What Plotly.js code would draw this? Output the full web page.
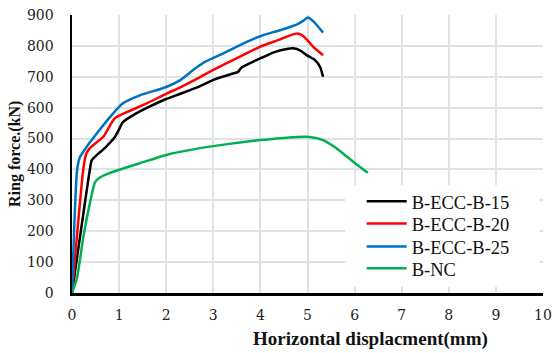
<!DOCTYPE html>
<html>
<head>
<meta charset="utf-8">
<script src="https://cdn.plot.ly/plotly-3.0.1.min.js"></script>
<style>
  html, body { margin: 0; padding: 0; background: #fff; }
  #chart { width: 554px; height: 353px; }
</style>
</head>
<body>
<div id="chart"></div>
<script>
// Ring force vs horizontal displacement for the four beam specimens
const seriesNames = ['B-ECC-B-15', 'B-ECC-B-20', 'B-ECC-B-25', 'B-NC'];

const b15X = [0, 0.38, 0.42, 0.53, 0.7, 0.91, 1.0, 1.08, 1.3, 1.6, 2.0, 2.3, 2.72, 3.0, 3.4, 3.52, 3.6, 4.06, 4.3, 4.56, 4.7, 4.85, 4.98, 5.16, 5.27, 5.33];
const b15Y = [0, 400, 430, 447, 470, 505, 530, 553, 576, 600, 628, 645, 670, 690, 710, 715, 730, 764, 780, 790, 792, 785, 770, 754, 731, 700];

const b20X = [0, 0.24, 0.3, 0.38, 0.5, 0.66, 0.91, 1.17, 1.6, 2.0, 2.3, 2.72, 3.0, 3.5, 3.99, 4.42, 4.65, 4.78, 4.88, 5.0, 5.12, 5.25, 5.33];
const b20Y = [0, 400, 450, 469, 485, 505, 566, 586, 615, 645, 666, 699, 722, 760, 797, 821, 835, 840, 835, 818, 797, 780, 770];

const b25X = [0, 0.11, 0.17, 0.31, 0.53, 0.81, 1.08, 1.44, 2.0, 2.3, 2.6, 2.82, 3.2, 3.71, 4.06, 4.4, 4.78, 4.9, 5.01, 5.12, 5.33];
const b25Y = [0, 400, 440, 473, 517, 570, 614, 640, 667, 689, 725, 748, 775, 813, 835, 850, 870, 880, 892, 880, 843];

const ncX = [0, 0.11, 0.24, 0.38, 0.49, 0.6, 0.74, 1.02, 1.44, 2.0, 2.72, 3.3, 3.99, 4.5, 4.78, 5.05, 5.33, 5.6, 5.84, 6.05, 6.28];
const ncY = [0, 52, 181, 291, 359, 375, 385, 400, 420, 447, 469, 482, 495, 502, 505, 505, 495, 470, 441, 415, 389];

const xTicks = [0, 1, 2, 3, 4, 5, 6, 7, 8, 9, 10];
const yTicks = [0, 100, 200, 300, 400, 500, 600, 700, 800, 900];

const colors = ['#000000', '#ff0000', '#0070c0', '#00b050'];
const xs = [b15X, b20X, b25X, ncX];
const ys = [b15Y, b20Y, b25Y, ncY];

// one legend per series so the rows can sit closer than the default spacing
const legendIds = ['legend', 'legend2', 'legend3', 'legend4'];
const legendRowY = [0.328, 0.248, 0.166, 0.087];

const traces = seriesNames.map((name, i) => ({
  x: xs[i],
  y: ys[i],
  name: name,
  type: 'scatter',
  mode: 'lines',
  legend: legendIds[i],
  line: { color: colors[i], width: 2.5, shape: 'spline', smoothing: 0.6 }
}));

const tickFont = { family: 'DejaVu Serif', size: 14, color: '#222' };

const layout = {
  width: 554,
  height: 353,
  margin: { l: 72, r: 11, t: 15, b: 60 },
  paper_bgcolor: '#fff',
  plot_bgcolor: '#fff',
  showlegend: true,
  xaxis: {
    range: [0, 10],
    tickvals: xTicks,
    ticktext: xTicks.map(String),
    showgrid: true, gridcolor: '#dde1e8', gridwidth: 2,
    zeroline: false,
    showline: true, linecolor: '#000', linewidth: 2.5,
    ticks: '', ticklabelstandoff: 8,
    tickfont: tickFont,
    fixedrange: true
  },
  yaxis: {
    range: [0, 900],
    tickvals: yTicks,
    ticktext: yTicks.map(String),
    showgrid: true, gridcolor: '#dde1e8', gridwidth: 2,
    zeroline: false,
    showline: true, linecolor: '#000', linewidth: 2.5,
    ticks: '', ticklabelstandoff: 13,
    tickfont: tickFont,
    fixedrange: true
  },
  shapes: [{
    type: 'rect', xref: 'x', yref: 'y',
    x0: 5.8, x1: 9.93, y0: 20, y1: 350,
    fillcolor: '#fff', line: { width: 0 }, layer: 'between'
  }],
  annotations: [
    {
      text: '<b>Horizontal displacment(mm)</b>',
      xref: 'paper', yref: 'paper', x: (370 - 72) / 471, y: 0,
      xanchor: 'center', yanchor: 'middle', yshift: -46,
      showarrow: false,
      font: { family: 'Liberation Serif', size: 19, color: '#111' }
    },
    {
      text: '<b>Ring force.(kN)</b>',
      xref: 'paper', yref: 'paper', x: 0, y: 0.5,
      xanchor: 'center', yanchor: 'middle', xshift: -57, yshift: 0,
      textangle: -90,
      showarrow: false,
      font: { family: 'Liberation Serif', size: 16, color: '#111' }
    }
  ]
};

legendIds.forEach((id, i) => {
  layout[id] = {
    x: 0.615, y: legendRowY[i], xanchor: 'left', yanchor: 'middle',
    bgcolor: 'rgba(0,0,0,0)',
    font: { family: 'Liberation Serif', size: 18.5, color: '#111' },
    itemwidth: 40
  };
});

Plotly.newPlot('chart', traces, layout, { displayModeBar: false, staticPlot: true });
</script>
</body>
</html>
